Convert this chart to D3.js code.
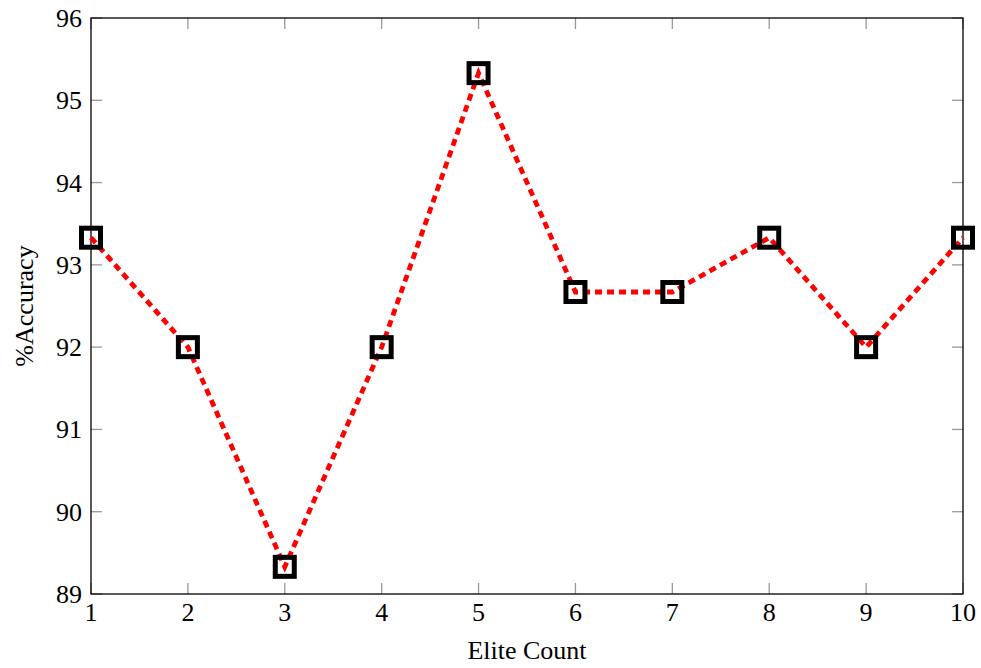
<!DOCTYPE html>
<html><head><meta charset="utf-8">
<script src="https://cdn.jsdelivr.net/npm/d3@7"></script>
<style>body{margin:0;background:#fff}svg{display:block}text{font-family:"Liberation Serif","DejaVu Serif",serif;fill:#000}</style>
</head><body>
<script>
const eliteCount = [1,2,3,4,5,6,7,8,9,10];
const accuracy = [93.33,92,89.33,92,95.33,92.67,92.67,93.33,92,93.33];
const xTicks = [1,2,3,4,5,6,7,8,9,10];
const yTicks = [89,90,91,92,93,94,95,96];
const xLabel = "Elite Count";
const yLabel = "%Accuracy";

const W=981,H=668, m={l:91,r:18,t:18,b:74};
const svg=d3.select("body").append("svg").attr("width",W).attr("height",H);
const x=d3.scaleLinear().domain([1,10]).range([m.l,W-m.r]);
const y=d3.scaleLinear().domain([89,96]).range([H-m.b,m.t]);
const fs=26, tl=11;
const g=svg.append("g");
const tk=g.append("g").attr("stroke","#999").attr("stroke-width",1.3);
xTicks.forEach(v=>{
  tk.append("line").attr("x1",x(v)).attr("x2",x(v)).attr("y1",y(89)).attr("y2",y(89)-tl);
  tk.append("line").attr("x1",x(v)).attr("x2",x(v)).attr("y1",y(96)).attr("y2",y(96)+tl);
});
yTicks.forEach(v=>{
  tk.append("line").attr("x1",x(1)).attr("x2",x(1)+tl).attr("y1",y(v)).attr("y2",y(v));
  tk.append("line").attr("x1",x(10)).attr("x2",x(10)-tl).attr("y1",y(v)).attr("y2",y(v));
});
g.append("rect").attr("x",x(1)).attr("y",y(96)).attr("width",x(10)-x(1)).attr("height",y(89)-y(96))
 .attr("fill","none").attr("stroke","#000").attr("stroke-width",1.3);
g.selectAll(".xl").data(xTicks).join("text").attr("x",d=>x(d)).attr("y",y(89)+27)
 .attr("text-anchor","middle").attr("font-size",fs).text(d=>d);
g.selectAll(".yl").data(yTicks).join("text").attr("x",x(1)-9).attr("y",d=>y(d)+9)
 .attr("text-anchor","end").attr("font-size",fs).text(d=>d);
svg.append("text").attr("x",(x(1)+x(10))/2).attr("y",H-9).attr("text-anchor","middle").attr("font-size",fs).text(xLabel);
svg.append("text").attr("transform",`translate(33,${(y(89)+y(96))/2}) rotate(-90)`).attr("text-anchor","middle").attr("font-size",fs).text(yLabel);
const data=eliteCount.map((d,i)=>({x:d,y:accuracy[i]}));
svg.append("path").datum(data).attr("fill","none").attr("stroke","#ff0000").attr("stroke-width",4.8)
 .attr("stroke-dasharray","7,5").attr("d",d3.line().x(d=>x(d.x)).y(d=>y(d.y)));
const s=19;
svg.selectAll(".mk").data(data).join("rect").attr("x",d=>x(d.x)-s/2).attr("y",d=>y(d.y)-s/2)
 .attr("width",s).attr("height",s).attr("fill","none").attr("stroke","#000").attr("stroke-width",5);
</script>
</body></html>
